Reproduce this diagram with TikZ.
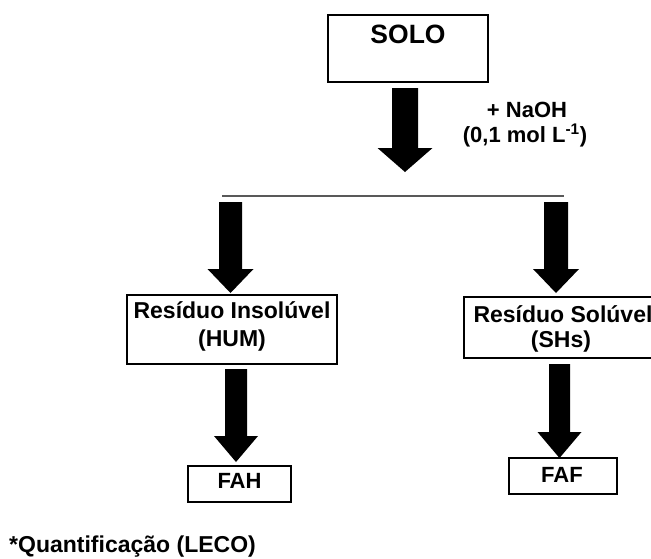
\documentclass[tikz,border=0pt]{standalone}
\usepackage{fontspec}
\setmainfont{Liberation Sans}
\begin{document}
\begin{tikzpicture}[x=1pt,y=-1pt,
  box/.style={draw=black,line width=2.6pt,fill=white,inner sep=0pt},
  lbl/.style={font=\bfseries\fontsize{23}{28}\selectfont,anchor=base,inner sep=0pt},
  small/.style={font=\bfseries\fontsize{22}{26}\selectfont,anchor=base,inner sep=0pt}]
\useasboundingbox (0,0) rectangle (651,558);
\clip (0,0) rectangle (651,558);

% solid block arrow: centre x, top y, head start y, tip y, half shaft, half head
\newcommand\blockarrow[6]{%
  \fill[black] (#1-#5,#2) -- (#1+#5,#2) -- (#1+#5,#3) -- (#1+#6,#3)
    -- (#1,#4) -- (#1-#6,#3) -- (#1-#5,#3) -- cycle;}

% boxes
\node[box,minimum width=160pt,minimum height=67pt] (solo) at (408,48.5) {};
\node[box,minimum width=210pt,minimum height=69pt] (hum) at (232,329.5) {};
\node[box,minimum width=200pt,minimum height=61pt] (shs) at (564,327.5) {};
\node[box,minimum width=103pt,minimum height=36pt] (fah) at (239.5,484) {};
\node[box,minimum width=108pt,minimum height=36pt] (faf) at (563,476) {};

% texts
\node[font=\bfseries\fontsize{26.5}{30}\selectfont,anchor=base,inner sep=0pt] (solot) at (408,43) {SOLO};
\node[small] (naoh1) at (527,117) {+ NaOH};
\node[small] (naoh2) at (525,142) {(0,1 mol L\textsuperscript{-1})};
\node[lbl] (hum1) at (232,318) {Resíduo Insolúvel};
\node[lbl] (hum2) at (232,346) {(HUM)};
\node[lbl] (shs1) at (563,322) {Resíduo Solúvel};
\node[lbl] (shs2) at (561,347) {(SHs)};
\node[small] (faht) at (239.5,488) {FAH};
\node[small] (faft) at (562,482) {FAF};
\node[lbl,anchor=base west] (note) at (9,552) {*Quantificação (LECO)};

% split line
\coordinate (splitL) at (222,196);
\coordinate (splitR) at (564,196);
\draw[gray!70!black,line width=1.2pt] (splitL) -- (splitR);

% arrows
\blockarrow{405}{88}{148}{172}{13}{27.5}
\blockarrow{230.5}{202}{269}{293}{11.5}{23}
\blockarrow{556}{202}{269}{293}{12}{23}
\blockarrow{236}{369}{436}{462}{11}{22}
\blockarrow{559.5}{364}{432}{458}{10.5}{22}
\end{tikzpicture}
\end{document}
